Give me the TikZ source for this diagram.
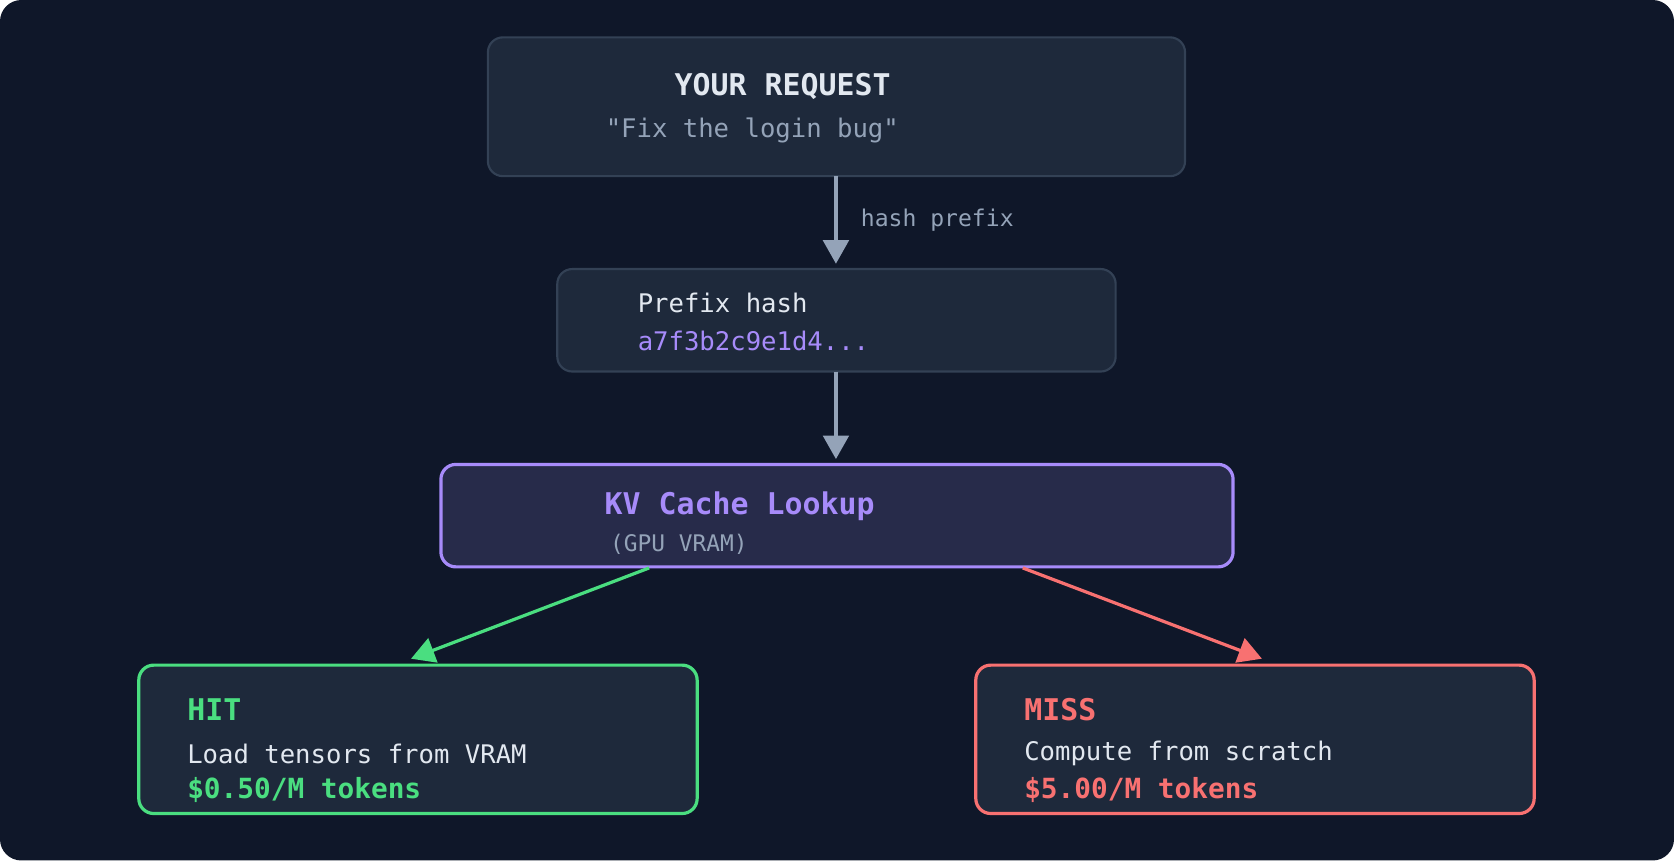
\documentclass[tikz,border=0pt]{standalone}
\usepackage{fontspec}
\setmonofont{DejaVu Sans Mono}
\usetikzlibrary{arrows.meta}
\definecolor{bg}{HTML}{0F1729}
\definecolor{box}{HTML}{1E293B}
\definecolor{boxline}{HTML}{334155}
\definecolor{kvfill}{HTML}{272B4A}
\definecolor{txt}{HTML}{E2E8F0}
\definecolor{mut}{HTML}{94A3B8}
\definecolor{purp}{HTML}{A78BFA}
\definecolor{grn}{HTML}{4ADE80}
\definecolor{rd}{HTML}{F87171}
\tikzset{
 bx/.style={rounded corners=7pt, line width=1pt},
 t/.style={anchor=west, inner sep=0pt, font=\ttfamily\fontsize{12}{14}\selectfont, text=txt},
 arr/.style={line width=1.5pt, -{Triangle[length=11pt,width=12pt]}},
}
\begin{document}
\begin{tikzpicture}[x=0.5pt,y=-0.5pt]
\useasboundingbox (0,0) rectangle (1568,806);
\fill[white] (0,0) rectangle (1568,806);
\fill[bg, rounded corners=10pt] (0,0) rectangle (1568,806);
% boxes
\draw[bx, fill=box, draw=boxline] (457,35) rectangle (1110,165);
\node (req) at (783,100) {};
\node[t, anchor=center, font=\ttfamily\bfseries\fontsize{14}{16}\selectfont] (reqt) at (733,81) {YOUR REQUEST};
\node[t, text=mut] (reqs) at (567,122) {"Fix the login bug"};
\draw[bx, fill=box, draw=boxline] (522,252) rectangle (1045,348);
\node[t] (ph) at (597,284) {Prefix hash};
\node[t, text=purp] (phv) at (597,319) {a7f3b2c9e1d4...};
\draw[bx, fill=kvfill, draw=purp, line width=1.5pt] (413,435) rectangle (1155,531);
\node[t, text=purp, font=\ttfamily\bfseries\fontsize{14}{16}\selectfont] (kv) at (566,474) {KV Cache Lookup};
\node[t, text=mut, font=\ttfamily\fontsize{10.7}{12}\selectfont] (kvs) at (571,510) {(GPU VRAM)};
\draw[bx, fill=box, draw=grn, line width=1.5pt] (130,623) rectangle (653,762);
\node[t, text=grn, font=\ttfamily\bfseries\fontsize{14}{16}\selectfont] (hit) at (175,665) {HIT};
\node[t] (hit2) at (175,706) {Load tensors from VRAM};
\node[t, text=grn, font=\ttfamily\bfseries\fontsize{13}{15}\selectfont] (hit3) at (175,740) {\$0.50/M tokens};
\draw[bx, fill=box, draw=rd, line width=1.5pt] (914,623) rectangle (1437,762);
\node[t, text=rd, font=\ttfamily\bfseries\fontsize{14}{16}\selectfont] (miss) at (959,665) {MISS};
\node[t] (miss2) at (959,706) {Compute from scratch};
\node[t, text=rd, font=\ttfamily\bfseries\fontsize{13}{15}\selectfont] (miss3) at (959,740) {\$5.00/M tokens};
% connector coordinates
\coordinate (a1) at (783,165); \coordinate (a2) at (783,247);
\coordinate (b1) at (783,348); \coordinate (b2) at (783,430);
\coordinate (g1) at (608,532); \coordinate (g2) at (385,617);
\coordinate (r1) at (958,532); \coordinate (r2) at (1182,617);
\draw[arr, mut] (a1) -- (a2);
\node[t, text=mut, font=\ttfamily\fontsize{10.8}{12}\selectfont] (hl) at (806,206) {hash prefix};
\draw[arr, mut] (b1) -- (b2);
\draw[arr, grn] (g1) -- (g2);
\draw[arr, rd] (r1) -- (r2);
\end{tikzpicture}
\end{document}
